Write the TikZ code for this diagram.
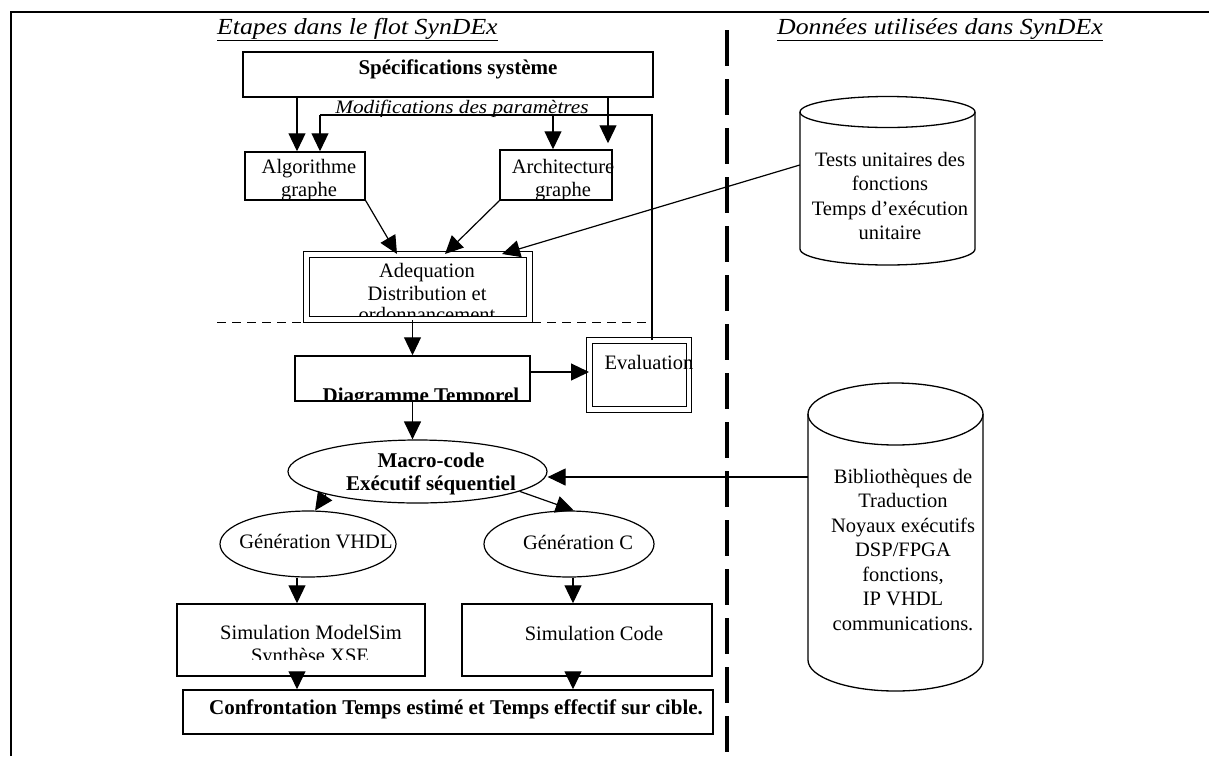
\documentclass[tikz,border=0pt]{standalone}
\usepackage{fontspec}
\setmainfont{Liberation Serif}
\newfontfamily\titlefont[FakeStretch=1.12]{Liberation Serif}
\usetikzlibrary{arrows.meta,shapes.geometric}
\newcommand\fsz{\fontsize{20.5}{23}\selectfont}
\newcommand\fbz{\fontsize{21}{23}\selectfont\bfseries}
\newcommand\fcyl{\fontsize{20.5}{24.5}\selectfont}
\begin{document}
\begin{tikzpicture}[x=1pt,y=-1pt,
  box/.style={draw, line width=1.5pt, rectangle, inner sep=0pt},
  dbox/.style={draw, line width=1pt, double, double distance=4.5pt, rectangle, inner sep=0pt},
  ell/.style={draw, line width=1.2pt, ellipse, inner sep=0pt},
  txt/.style={font=\fsz, align=center, inner sep=0pt},
  btxt/.style={font=\fbz, align=center, inner sep=0pt},
  ctxt/.style={font=\fcyl, align=center, inner sep=0pt},
  ttl/.style={font=\titlefont\fontsize{23}{26}\selectfont\itshape, inner sep=0pt},
  conn/.style={line width=1.2pt},
  arr/.style={line width=1.2pt, -{Triangle[length=18pt,width=17pt]}},
  cyl/.style={line width=1.3pt}
]
\useasboundingbox (0,0) rectangle (1209,756);
% frame
\draw[line width=2pt] (11,756) -- (11,12) -- (1209,12);
% titles
\node[ttl, anchor=base west] (t1) at (217,34) {\underline{Etapes dans le flot SynDEx}};
\node[ttl, anchor=base west] (t2) at (777,34) {\underline{Données utilisées dans SynDEx}};
% separators
\draw[line width=3.5pt, dash pattern=on 36pt off 13pt] (727,30) -- (727,752);
\draw[line width=1pt, dash pattern=on 9pt off 6pt] (217,322) -- (647,322);

% boxes
\node[box, minimum width=410pt, minimum height=45pt] (spec) at (448,74.5) {};
\node[btxt] (specT) at (458,69) {Spécifications système};

\node[box, minimum width=120pt, minimum height=48pt] (algo) at (305,176) {};
\node[txt] (algoT) at (309,180) {Algorithme\\graphe};

\node[box, minimum width=112pt, minimum height=50pt] (arch) at (556,175) {};
\node[txt] (archT) at (563,180) {Architecture\\graphe};

\node[dbox, minimum width=223pt, minimum height=65pt] (adeq) at (418,287) {};
\node[txt, anchor=base] (adeq1) at (427,277) {Adequation};
\node[txt, anchor=base] (adeq2) at (427,300) {Distribution et};
\begin{scope}
\clip (310,250) rectangle (526,315.5);
\node[txt, anchor=base] (adeq3) at (427,321) {ordonnancement};
\end{scope}

\node[box, minimum width=235pt, minimum height=45pt] (diag) at (412.5,378.5) {};
\begin{scope}
\clip (296,357) rectangle (529,400);
\node[btxt, anchor=base] (diagT) at (421,402) {Diagramme Temporel};
\end{scope}

\node[dbox, minimum width=99.5pt, minimum height=69pt] (eval) at (639.25,375) {};
\node[txt] (evalT) at (649,362) {Evaluation};

\node[ell, minimum width=259pt, minimum height=63pt] (macro) at (417.5,471.5) {};
\node[btxt] (macroT) at (431,474) {Macro-code\\Exécutif séquentiel};

\node[ell, minimum width=176pt, minimum height=66pt] (vhdl) at (308,544) {};
\node[txt] (vhdlT) at (316,542) {Génération VHDL};
\node[ell, minimum width=170pt, minimum height=66pt] (cgen) at (569,544) {};
\node[txt] (cgenT) at (578,542) {Génération C};

\node[box, minimum width=248pt, minimum height=72pt] (msim) at (301,640) {};
\node[txt, anchor=base] (msim1) at (311,639) {Simulation ModelSim};
\begin{scope}
\clip (178,600) rectangle (424,659);
\node[txt, anchor=base] (msim2) at (310,662) {Synthèse XSE};
\end{scope}

\node[box, minimum width=250pt, minimum height=72pt] (csim) at (587,640) {};
\node[txt, anchor=base] (csimT) at (594,640) {Simulation Code};

\node[box, minimum width=530pt, minimum height=44pt] (conf) at (448,712) {};
\node[btxt, anchor=base] (confT) at (456,714) {Confrontation Temps estimé et Temps effectif sur cible.};

% cylinders
\node[minimum width=175pt, minimum height=168pt, inner sep=0pt] (tests) at (887.5,181) {};
\draw[cyl] (887.5,112) ellipse [x radius=87.5, y radius=15.5];
\draw[cyl] (800,112) -- (800,249) arc[start angle=180, end angle=0, x radius=87.5, y radius=16] -- (975,112);
\node[ctxt] (testsT) at (890,196) {Tests unitaires des\\fonctions\\Temps d’exécution\\unitaire};

\node[minimum width=175pt, minimum height=308pt, inner sep=0pt] (bib) at (895.5,537) {};
\draw[cyl] (895.5,414) ellipse [x radius=87.5, y radius=31];
\draw[cyl] (808,414) -- (808,660) arc[start angle=180, end angle=0, x radius=87.5, y radius=31] -- (983,414);
\node[ctxt] (bibT) at (903,550) {Bibliothèques de\\Traduction\\Noyaux exécutifs\\DSP/FPGA\\fonctions,\\IP VHDL\\communications.};

% modification loop
\coordinate (mL) at (320,115);
\coordinate (mR) at (652,115);
\coordinate (mA) at (553,115);
\draw[conn] (eval.north -| mR) -- (mR) -- (mL);
\node[font=\titlefont\fontsize{19}{22}\selectfont\itshape, anchor=base, inner sep=0pt] (modT) at (462,113) {Modifications des paramètres};

% connectors
\draw[arr] (spec.south -| 297,0) -- (algo.north -| 297,0);
\draw[arr, shorten >=6pt] (spec.south -| 608,0) -- (arch.north -| 608,0);
\draw[arr] (mL) -- (algo.north -| mL);
\draw[arr] (mA) -- (arch.north -| mA);
\draw[arr] (algo.south east) -- (adeq.north -| 397,0);
\draw[arr] (arch.south west) -- (adeq.north -| 445,0);
\draw[arr] ([yshift=16pt]tests.west) -- (adeq.north -| 502,0);
\draw[arr] (diag.north |- adeq.south) -- (diag.north);
\draw[arr] (diag.east |- 0,372) -- (eval.west |- 0,372);
\draw[arr] (diag.south) -- (diag.south |- macro.north);
\draw[arr] (bib.west |- 0,477) -- (macro.east |- 0,477);
\draw[arr] (macro.194) -- (vhdl.78);
\draw[arr] (macro.-11) -- (cgen.82);
\draw[arr] (vhdl.south -| 297,0) -- (msim.north -| 297,0);
\draw[arr] (cgen.south -| 573,0) -- (csim.north -| 573,0);
\draw[arr] (msim.south -| 297,0) -- (conf.north -| 297,0);
\draw[arr] (csim.south -| 573,0) -- (conf.north -| 573,0);
\end{tikzpicture}
\end{document}
